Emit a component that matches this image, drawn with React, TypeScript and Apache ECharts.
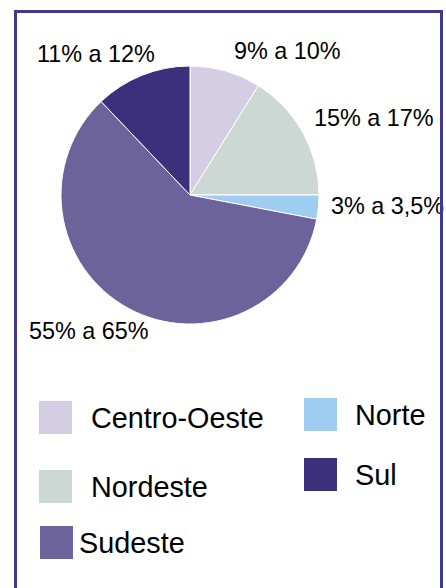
import React, { useEffect, useRef } from "react";
import * as echarts from "echarts";

const regions = ["Centro-Oeste", "Nordeste", "Norte", "Sudeste", "Sul"];
const shares = [8.9, 16.1, 3.0, 59.9, 12.1];
const rangeLabels = ["9% a 10%", "15% a 17%", "3% a 3,5%", "55% a 65%", "11% a 12%"];
const colors = ["#d5cde4", "#cdd7d3", "#9fcdf1", "#6c639b", "#3c2f7b"];

// label anchor positions (left, middle)
const labelPos: [number, number][] = [
  [234, 51],
  [314, 118],
  [331, 206],
  [29, 331],
  [37, 54],
];

// legend placements: [left, top, text padding-left, text padding-bottom]
const legendPos: [number, number, number, number][] = [
  [37, 399, 13, 4],
  [37, 468, 13, 5],
  [302, 396, 12, 2],
  [38, 524, 0, 4],
  [302, 456, 12, 0],
];

const FONT = "'Liberation Sans', Arial, Helvetica, sans-serif";

export default function App() {
  const ref = useRef<HTMLDivElement>(null);
  useEffect(() => {
    if (!ref.current) return;
    const chart = echarts.init(ref.current, undefined, { renderer: "svg" });
    chart.setOption({
      animation: false,
      backgroundColor: "#ffffff",
      color: colors,
      graphic: [
        {
          type: "rect",
          shape: { x: 15.5, y: 11.5, width: 426, height: 620 },
          style: { fill: "none", stroke: "#3f3a8c", lineWidth: 3 },
          z: 100,
        },
      ],
      legend: regions.map((name, i) => ({
        data: [name],
        left: legendPos[i][0],
        top: legendPos[i][1],
        padding: 0,
        icon: "rect",
        itemWidth: 35,
        itemHeight: 35,
        selectedMode: false,
        textStyle: {
          fontSize: 28.8,
          fontFamily: FONT,
          color: "#000",
          padding: [0, 0, legendPos[i][3], legendPos[i][2]],
        },
      })),
      series: [
        {
          type: "pie",
          center: [190, 195],
          radius: 129,
          startAngle: 90,
          clockwise: true,
          avoidLabelOverlap: false,
          itemStyle: { borderColor: "#ffffff", borderWidth: 1 },
          label: {
            show: true,
            position: "outside",
            fontSize: 23.4,
            fontFamily: FONT,
            color: "#000",
            formatter: (p: any) => rangeLabels[p.dataIndex],
          },
          labelLine: { show: false },
          labelLayout: (p: any) => ({
            x: labelPos[p.dataIndex][0],
            y: labelPos[p.dataIndex][1],
            align: "left",
            verticalAlign: "middle",
          }),
          emphasis: { disabled: true },
          data: regions.map((name, i) => ({ name, value: shares[i] })),
        },
      ],
    });
    return () => chart.dispose();
  }, []);
  return (
    <div
      ref={ref}
      style={{ position: "absolute", left: 0, top: 0, width: 446, height: 588 }}
    />
  );
}
